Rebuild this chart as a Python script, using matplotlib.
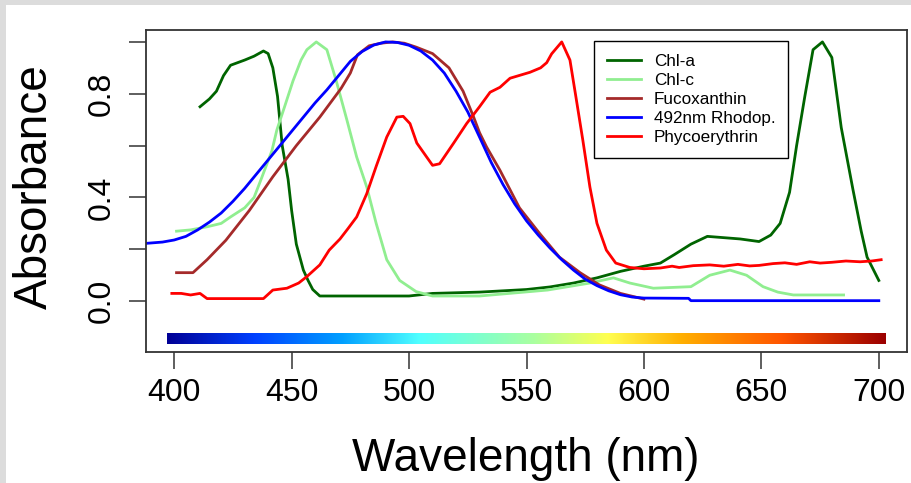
import matplotlib
matplotlib.use("Agg")
import matplotlib.pyplot as plt
import numpy as np

plt.rcParams["font.family"] = ["Liberation Sans", "DejaVu Sans"]

# --- pigment absorbance spectra ---
chla_nm = [411, 415, 418, 421, 424, 427, 430, 434, 438, 440, 442, 444, 446, 448.5,
           450, 452, 455, 457, 459, 462, 480, 500, 510, 530, 550, 560, 570, 580,
           590, 600, 607, 613, 620, 627, 634, 641, 649, 654, 658, 662, 665, 668.5,
           672, 676, 680, 684, 689, 692.5, 695, 700]
chla_abs = [0.75, 0.78, 0.81, 0.87, 0.91, 0.92, 0.93, 0.945, 0.965, 0.955, 0.90, 0.79,
            0.60, 0.47, 0.35, 0.22, 0.12, 0.08, 0.045, 0.02, 0.02, 0.02, 0.03, 0.035,
            0.045, 0.055, 0.07, 0.09, 0.115, 0.135, 0.147, 0.18, 0.22, 0.25, 0.245,
            0.24, 0.23, 0.255, 0.30, 0.42, 0.60, 0.79, 0.97, 1.0, 0.94, 0.67, 0.43,
            0.27, 0.17, 0.08]

chlc_nm = [401, 407, 414, 420, 424, 430, 434, 437, 441.6, 443.7, 447, 450.6, 454,
           456.5, 460.5, 465, 469, 473.5, 477.7, 482, 486, 490.5, 496, 503, 510,
           530, 559, 577, 587, 594, 604, 620, 628, 636.6, 643.7, 650.7, 657, 663.6,
           685]
chlc_abs = [0.27, 0.275, 0.287, 0.30, 0.325, 0.36, 0.40, 0.47, 0.58, 0.66, 0.75, 0.85,
            0.93, 0.97, 1.0, 0.97, 0.85, 0.70, 0.556, 0.44, 0.30, 0.16, 0.08, 0.037,
            0.02, 0.02, 0.043, 0.07, 0.09, 0.07, 0.05, 0.056, 0.10, 0.12, 0.10,
            0.056, 0.035, 0.024, 0.024]

fuco_nm = [401, 408, 414, 422, 432, 442, 452, 462, 471, 475, 478, 483, 488, 493, 498,
           503, 510, 517, 523, 527.5, 530, 533, 538.7, 547, 555.7, 564, 572.8, 581,
           590, 600]
fuco_abs = [0.11, 0.11, 0.16, 0.235, 0.35, 0.48, 0.60, 0.71, 0.82, 0.88, 0.95, 0.985,
            0.995, 1.0, 0.995, 0.98, 0.955, 0.90, 0.81, 0.71, 0.65, 0.595, 0.505,
            0.36, 0.26, 0.17, 0.11, 0.063, 0.03, 0.008]

rhod_nm = [388, 395, 400, 405, 410, 415, 420, 425, 430, 435, 440, 445, 450, 455, 460,
           465, 470, 475, 480, 485, 490, 495, 500, 505, 510, 515, 520, 525, 530, 535,
           540, 545, 550, 555, 560, 565, 570, 575, 580, 585, 590, 595, 600, 619, 620,
           700]
rhod_abs = [0.223, 0.228, 0.236, 0.25, 0.275, 0.305, 0.34, 0.385, 0.435, 0.49, 0.545,
            0.60, 0.655, 0.71, 0.765, 0.815, 0.87, 0.925, 0.963, 0.988, 1.0, 0.998,
            0.987, 0.965, 0.93, 0.88, 0.81, 0.73, 0.633, 0.535, 0.45, 0.375, 0.31,
            0.255, 0.205, 0.16, 0.12, 0.085, 0.06, 0.04, 0.025, 0.016, 0.012, 0.011,
            0.002, 0.002]

phyco_nm = [399, 403, 407, 411, 414, 425, 438, 442, 448, 453, 456.5, 462, 466, 470.6,
            474, 477.7, 482, 486, 490.5, 494.8, 497.5, 500.4, 503.3, 507.5, 510, 513,
            519, 524.5, 530, 534.5, 538.7, 543, 551.5, 556, 558.6, 560.7, 565, 568.5,
            571, 574, 577, 580, 584, 588, 594, 600, 607, 612, 615, 621, 628, 634, 640,
            645, 649, 655, 660, 665, 670.6, 675, 680, 686, 692, 697, 701]
phyco_abs = [0.03, 0.03, 0.024, 0.03, 0.01, 0.01, 0.01, 0.043, 0.05, 0.07, 0.095, 0.14,
             0.197, 0.24, 0.28, 0.325, 0.415, 0.52, 0.633, 0.71, 0.713, 0.685, 0.61,
             0.556, 0.524, 0.53, 0.61, 0.685, 0.75, 0.806, 0.825, 0.86, 0.883, 0.90,
             0.92, 0.954, 1.0, 0.93, 0.79, 0.62, 0.44, 0.30, 0.197, 0.147, 0.13,
             0.125, 0.128, 0.135, 0.13, 0.137, 0.14, 0.135, 0.142, 0.136, 0.138,
             0.145, 0.148, 0.142, 0.152, 0.147, 0.15, 0.155, 0.152, 0.155, 0.16]

series = [
    ("Chl-a", chla_nm, chla_abs, "darkgreen"),
    ("Chl-c", chlc_nm, chlc_abs, "lightgreen"),
    ("Fucoxanthin", fuco_nm, fuco_abs, "brown"),
    ("492nm Rhodop.", rhod_nm, rhod_abs, "blue"),
    ("Phycoerythrin", phyco_nm, phyco_abs, "red"),
]

# visible spectrum strip
band_nm = np.arange(400, 701)
band_level = -0.143
band_anchor_nm = [400, 436, 473, 505, 553, 584, 615, 657, 700]
band_anchor_hex = ["#000096", "#0040ff", "#00a0ff", "#50ffff", "#aaffa0",
                   "#ffff50", "#ffaf00", "#ff5500", "#9b0000"]

x_ticks = [400, 450, 500, 550, 600, 650, 700]
y_ticks = [0.0, 0.2, 0.4, 0.6, 0.8, 1.0]
y_tick_labels = ["0.0", "", "0.4", "", "0.8", ""]

W, H = 911, 483
fig = plt.figure(figsize=(W / 100, H / 100), dpi=100)
fig.patch.set_facecolor("#dcdcdc")
fig.add_artist(plt.Rectangle((6 / W, 0), 1, 1 - 5 / H, transform=fig.transFigure,
                             facecolor="white", edgecolor="none", zorder=-1))

ax = fig.add_axes([146 / W, 1 - 352 / H, 761 / W, 322 / H])

for label, nm, ab, col in series:
    ax.plot(nm, ab, color=col, lw=2.0, label=label, solid_joinstyle="round")

# colour strip
rgb = np.array([matplotlib.colors.to_rgb(c) for c in band_anchor_hex])
band_rgb = np.stack([np.interp(band_nm, band_anchor_nm, rgb[:, i]) for i in range(3)], axis=1)
ax.imshow(band_rgb[np.newaxis, :, :], aspect="auto", interpolation="bilinear",
          extent=[band_nm[0] - 3, band_nm[-1] + 3, band_level - 0.021, band_level + 0.021],
          zorder=1)

ax.set_xlim(388, 712)
ax.set_ylim(-0.196, 1.046)
ax.set_xticks(x_ticks)
ax.set_xticklabels([str(t) for t in x_ticks])
ax.set_yticks(y_ticks)
ax.set_yticklabels(y_tick_labels, rotation=90, va="center")
ax.tick_params(axis="both", length=12, width=1.1, color="#333333", labelsize=23)
ax.tick_params(axis="x", pad=7)
ax.tick_params(axis="y", pad=9)
for sp in ax.spines.values():
    sp.set_color("#333333")
    sp.set_linewidth(1.3)

fig.text(526 / W, 1 - 471 / H, "Wavelength (nm)", ha="center", va="baseline", fontsize=33)
fig.text(47 / W, 1 - 187 / H, "Absorbance", rotation=90, rotation_mode="anchor",
         ha="center", va="baseline", fontsize=33)

leg = ax.legend(loc="upper left", bbox_to_anchor=((594 - 146) / 761, (352 - 41) / 322),
                fontsize=12.3, handlelength=2.0, handletextpad=0.75, labelspacing=0.24,
                borderpad=0.75, fancybox=False, framealpha=1, edgecolor="black",
                borderaxespad=0)
leg.get_frame().set_linewidth(1.0)

fig.savefig("out.png", dpi=100, facecolor=fig.get_facecolor())
